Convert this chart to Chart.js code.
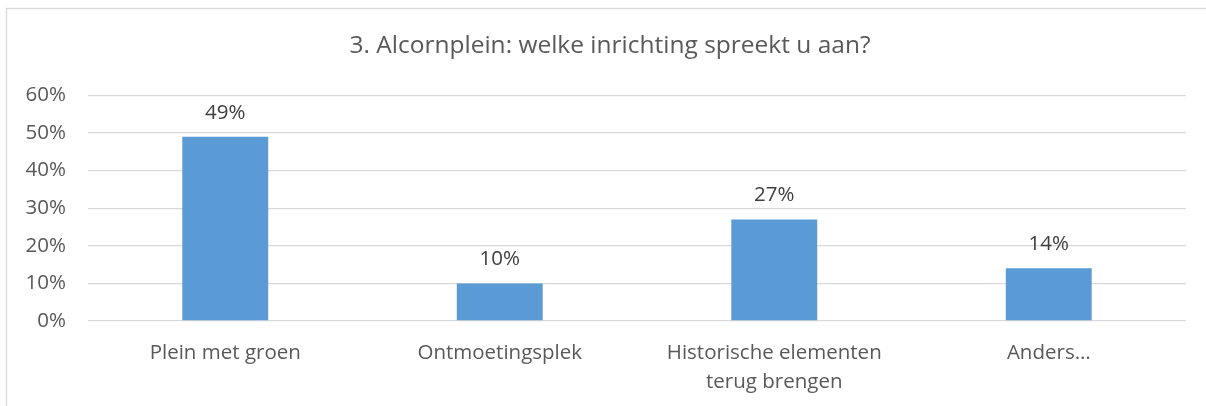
<!DOCTYPE html>
<html>
<head>
<meta charset="utf-8">
<script src="https://cdn.jsdelivr.net/npm/chart.js@4"></script>
<style>
  html, body { margin: 0; padding: 0; background: #fff; }
  #wrap { width: 1206px; height: 406px; position: relative; }
</style>
</head>
<body>
<div id="wrap"><canvas id="chartId" width="1206" height="406"></canvas></div>
<script>
const chartTitle = '3. Alcornplein: welke inrichting spreekt u aan?';
const categories = ['Plein met groen', 'Ontmoetingsplek', ['Historische elementen', 'terug brengen'], 'Anders…'];
const values = [49, 10, 27, 14];
const yTicks = [0, 10, 20, 30, 40, 50, 60];

const fontFamily = '"Open Sans", "Noto Sans", sans-serif';
const textColor = '#595959';

// frame round the chart (cut off on the right and bottom like the original)
const framePlugin = {
    id: 'frame',
    beforeDraw(chart) {
        const ctx = chart.ctx;
        ctx.save();
        ctx.fillStyle = '#fff';
        ctx.fillRect(0, 0, chart.width, chart.height);
        ctx.strokeStyle = '#d9d9d9';
        ctx.lineWidth = 1.3;
        ctx.strokeRect(6.5, 8.5, 1400, 600);
        ctx.restore();
    }
};

// percentage labels above the bars
const valueLabels = {
    id: 'valueLabels',
    afterDatasetsDraw(chart) {
        const ctx = chart.ctx;
        const meta = chart.getDatasetMeta(0);
        ctx.save();
        ctx.font = '20.5px ' + fontFamily;
        ctx.fillStyle = '#404040';
        ctx.textAlign = 'center';
        ctx.textBaseline = 'middle';
        meta.data.forEach((bar, i) => {
            ctx.fillText(values[i] + '%', bar.x, bar.y - 24);
        });
        ctx.restore();
    }
};

const ctx = document.getElementById('chartId').getContext('2d');
new Chart(ctx, {
    type: 'bar',
    data: {
        labels: categories,
        datasets: [{
            data: values,
            backgroundColor: '#5b9bd5',
            barPercentage: 0.313,
            categoryPercentage: 1.0
        }]
    },
    options: {
        responsive: false,
        animation: false,
        layout: { padding: { left: 14, right: 0, top: 0, bottom: 5 } },
        plugins: {
            legend: { display: false },
            tooltip: { enabled: false },
            title: {
                display: true,
                text: chartTitle,
                color: textColor,
                font: { family: fontFamily, size: 24.5, weight: 'normal', lineHeight: 1.2 },
                padding: { top: 31, bottom: 35 }
            }
        },
        scales: {
            x: {
                afterFit(scale) { scale.height = 80; },
                grid: { display: false },
                border: { display: false },
                ticks: {
                    color: textColor,
                    font: { family: fontFamily, size: 20.5, lineHeight: 1.4 },
                    padding: 10,
                    maxRotation: 0,
                    autoSkip: false
                }
            },
            y: {
                min: 0,
                max: 60,
                afterFit(scale) { scale.width = 74; },
                afterBuildTicks(scale) { scale.ticks = yTicks.map(v => ({ value: v })); },
                grid: { color: '#d9d9d9', lineWidth: 1.3, drawTicks: false },
                border: { display: false },
                ticks: {
                    color: textColor,
                    font: { family: fontFamily, size: 20.5 },
                    padding: 22,
                    callback: v => v + '%'
                }
            },
            // empty strip on the right side of the plot
            yRight: {
                position: 'right',
                min: 0,
                max: 60,
                afterFit(scale) { scale.width = 20; },
                grid: { display: false },
                border: { display: false },
                ticks: { display: false }
            }
        }
    },
    plugins: [framePlugin, valueLabels]
});
</script>
</body>
</html>
